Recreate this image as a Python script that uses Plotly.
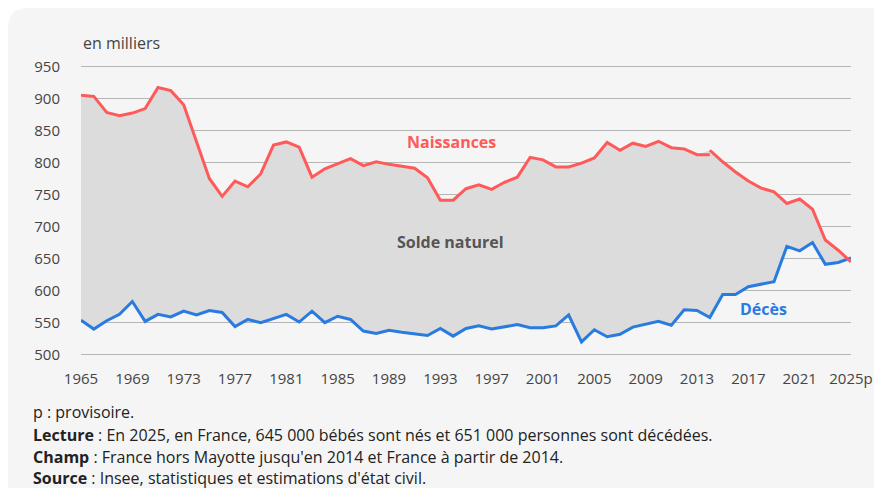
import plotly.graph_objects as go

years = list(range(1965, 2026))

# Naissances, France hors Mayotte (1965-2014), en milliers
births_a = [905, 903, 878, 873, 877, 884, 917, 912, 890, 832,
            775, 747, 771, 762, 782, 827, 832, 824, 777, 790,
            798, 806, 795, 801, 797, 794, 791, 776, 741, 741,
            759, 765, 758, 769, 777, 808, 804, 793, 793, 799,
            807, 831, 819, 830, 825, 833, 823, 821, 812, 812]
# Naissances, France (2014-2025)
births_b_years = list(range(2014, 2026))
births_b = [819, 801, 785, 771, 760, 754, 736, 743, 727, 679, 663, 645]

# Décès, en milliers
deaths = [554, 540, 553, 563, 583, 552, 563, 559, 568, 562,
          569, 566, 544, 555, 550, 556, 563, 551, 568, 550,
          560, 555, 537, 533, 538, 535, 533, 530, 541, 529,
          541, 545, 540, 544, 547, 542, 542, 545, 562, 520,
          539, 528, 532, 543, 548, 552, 546, 570, 569, 558,
          594, 594, 606, 610, 614, 669, 662, 675, 641, 644, 651]

tick_years = list(range(1965, 2026, 4))
tick_text = [str(y) for y in tick_years[:-1]] + ["2025p"]
y_ticks = list(range(500, 951, 50))

RED = "#ff5a5a"
BLUE = "#2a7be0"
FILL = "#dcdcdc"
FONT = "Open Sans"

W, H = 874, 488
ML, MR, MT, MB = 81, 23, 65, 132
PW, PH = W - ML - MR, H - MT - MB


def px_x(px):
    return (px - ML) / PW


def px_y(py):
    return (H - MB - py) / PH


# combined upper boundary for the shaded "solde naturel" area
births_combined = births_a[:-1] + births_b
poly_x = years + years[::-1]
poly_y = births_combined + deaths[::-1]

fig = go.Figure()
fig.add_trace(go.Scatter(x=poly_x, y=poly_y, fill="toself", fillcolor=FILL,
                         line=dict(width=0), mode="lines", hoverinfo="skip",
                         showlegend=False))
fig.add_trace(go.Scatter(x=years, y=deaths, mode="lines",
                         line=dict(color=BLUE, width=3), showlegend=False))
fig.add_trace(go.Scatter(x=years[:len(births_a)], y=births_a, mode="lines",
                         line=dict(color=RED, width=3), showlegend=False))
fig.add_trace(go.Scatter(x=births_b_years, y=births_b, mode="lines",
                         line=dict(color=RED, width=3), showlegend=False))

# rounded light-grey panel
x0, y0, x1, y1 = px_x(8), px_y(8), px_x(W + 5), px_y(H + 5)
rx = 20 / PW
ry = 20 / PH
path = (f"M {x0},{y1} L {x0},{y0 - ry} Q {x0},{y0} {x0 + rx},{y0} "
        f"L {x1},{y0} L {x1},{y1} Z")
fig.add_shape(type="path", path=path, xref="paper", yref="paper",
              fillcolor="#f5f5f5", line=dict(width=0), layer="below")

annotations = [
    dict(x=1993.9, y=832, xref="x", yref="y", text="<b>Naissances</b>",
         showarrow=False, font=dict(color=RED, size=16, family=FONT)),
    dict(x=1993.8, y=675.5, xref="x", yref="y", text="<b>Solde naturel</b>",
         showarrow=False, font=dict(color="#555555", size=16, family=FONT)),
    dict(x=2018.2, y=571, xref="x", yref="y", text="<b>Décès</b>",
         showarrow=False, font=dict(color=BLUE, size=16, family=FONT)),
    dict(x=px_x(81), y=px_y(43), xref="paper", yref="paper", text="en milliers",
         showarrow=False, xanchor="left", yanchor="middle",
         font=dict(color="#444444", size=16, family=FONT)),
]
notes = [
    ("p : provisoire.", 412),
    ("<b>Lecture</b> : En 2025, en France, 645 000 bébés sont nés et 651 000 personnes sont décédées.", 435),
    ("<b>Champ</b> : France hors Mayotte jusqu'en 2014 et France à partir de 2014.", 457),
    ("<b>Source</b> : Insee, statistiques et estimations d'état civil.", 478),
]
for txt, py in notes:
    annotations.append(dict(x=px_x(31), y=px_y(py), xref="paper", yref="paper",
                            text=txt, showarrow=False, xanchor="left",
                            yanchor="middle",
                            font=dict(color="#222222", size=16, family=FONT)))

fig.update_layout(
    width=W, height=H,
    margin=dict(l=ML, r=MR, t=MT, b=MB, pad=0, autoexpand=False),
    paper_bgcolor="white",
    plot_bgcolor="rgba(0,0,0,0)",
    font=dict(family=FONT, size=15, color="#444444"),
    annotations=annotations,
    xaxis=dict(range=[1965, 2025], tickvals=tick_years, ticktext=tick_text,
               showgrid=False, zeroline=False, showline=False,
               automargin=False,
               ticks="outside", ticklen=9, tickcolor="rgba(0,0,0,0)",
               tickfont=dict(size=15, color="#444444")),
    yaxis=dict(range=[498, 952], tickvals=y_ticks, showgrid=True,
               gridcolor="#b5b5b5", gridwidth=1, zeroline=False,
               showline=False, automargin=False,
               ticks="outside", ticklen=17,
               tickcolor="rgba(0,0,0,0)",
               tickfont=dict(size=15, color="#444444")),
)

fig.write_html("out.html",
               config={"displayModeBar": False},
               post_script="document.body.style.margin='0';"
                           "document.body.style.overflow='hidden';")
